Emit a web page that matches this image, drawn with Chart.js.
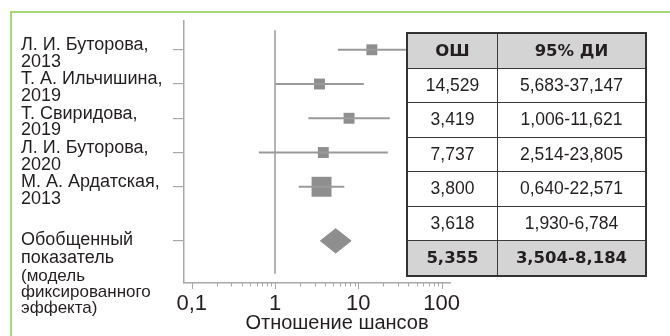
<!DOCTYPE html>
<html>
<head>
<meta charset="utf-8">
<script src="https://cdn.jsdelivr.net/npm/chart.js@4.4.1/dist/chart.umd.min.js"></script>
<style>
  html, body { margin: 0; padding: 0; background: #fff; }
  #wrap { position: relative; width: 670px; height: 336px; overflow: hidden; }
  #frame { position: absolute; left: 10px; top: 11px; width: 700px; height: 400px;
           border-top: 2px solid #a7d67c; border-left: 2px solid #a7d67c; pointer-events: none; }
  #tbl { position: absolute; left: 406px; top: 32px; border-collapse: collapse;
         font-family: "Liberation Sans", Arial, sans-serif; font-size: 17.5px; color: #231f20;
         border: 2px solid #333; }
  #tbl td { border: 1.5px solid #3a3a3a; text-align: center; padding: 0; height: 33.5px; }
  #tbl td.c1 { width: 89px; }
  #tbl td.c2 { width: 147px; }
  #tbl tr.head td, #tbl tr.total td { background: #d4d4d4; font-family: "DejaVu Sans", sans-serif;
           font-weight: bold; font-size: 16.5px; }
</style>
</head>
<body>
<div id="wrap">
  <canvas id="forest" width="670" height="336"></canvas>
  <table id="tbl"></table>
  <div id="frame"></div>
</div>
<script>
// Исследования (подписи по оси Y)
const studyLabels = [
    ["Л. И. Буторова,", "2013"],
    ["Т. А. Ильчишина,", "2019"],
    ["Т. Свиридова,", "2019"],
    ["Л. И. Буторова,", "2020"],
    ["М. А. Ардатская,", "2013"]
];
const pooledLabel = ["Обобщенный", "показатель"];
const pooledNote = ["(модель", "фиксированного", "эффекта)"];

// Отношение шансов и 95% ДИ
const oddsRatio = [14.529, 3.419, 7.737, 3.800, 3.618];
const ciLow = [5.683, 1.006, 2.514, 0.640, 1.930];
const ciHigh = [37.147, 11.621, 23.805, 22.571, 6.784];
const pooledOR = 5.355;
const pooledLow = 3.504;
const pooledHigh = 8.184;

// Ось X
const tickValues = [0.1, 1, 10, 100];
const tickLabels = ["0,1", "1", "10", "100"];
const tableHead = ["ОШ", "95% ДИ"];
const axisTitle = "Отношение шансов";

const pooledRow = 5.58;
const markColor = "#8e8e8e";
const lineColor = "#9a9a9a";
const textColor = "#231f20";
const fontFamily = "'Liberation Sans', Arial, sans-serif";

function fmt(v) {
    return v.toFixed(3).replace(".", ",");
}

// Таблица справа
function buildTable() {
    const tbl = document.getElementById("tbl");
    let html = `<tr class="head"><td class="c1">${tableHead[0]}</td><td class="c2">${tableHead[1]}</td></tr>`;
    oddsRatio.forEach((or, i) => {
        html += `<tr><td class="c1">${fmt(or)}</td><td class="c2">${fmt(ciLow[i])}-${fmt(ciHigh[i])}</td></tr>`;
    });
    html += `<tr class="total"><td class="c1">${fmt(pooledOR)}</td><td class="c2">${fmt(pooledLow)}-${fmt(pooledHigh)}</td></tr>`;
    tbl.innerHTML = html;
}

// Подписи, мелкие деления и название оси
const forestDecor = {
    id: "forestDecor",
    afterDraw(chart) {
        const ctx = chart.ctx;
        const x = chart.scales.x;
        const y = chart.scales.y;
        ctx.save();
        // деления оси X
        ctx.strokeStyle = "#a8a8a8";
        ctx.lineWidth = 1;
        x.ticks.forEach(t => {
            const px = Math.round(x.getPixelForValue(t.value)) + 0.5;
            const len = t.major ? 6 : 3.5;
            ctx.beginPath();
            ctx.moveTo(px, x.top);
            ctx.lineTo(px, x.top + len);
            ctx.stroke();
        });
        // подписи исследований
        ctx.fillStyle = textColor;
        ctx.textAlign = "left";
        ctx.textBaseline = "middle";
        ctx.font = "18px " + fontFamily;
        studyLabels.forEach((lines, i) => {
            const py = y.getPixelForValue(i);
            lines.forEach((s, k) => ctx.fillText(s, 21, py - 4.5 + k * 16.7));
        });
        const pp = y.getPixelForValue(pooledRow);
        pooledLabel.forEach((s, k) => ctx.fillText(s, 21, pp - 1 + k * 18.3));
        ctx.font = "17px " + fontFamily;
        pooledNote.forEach((s, k) => ctx.fillText(s, 21, pp + 35.5 + k * 16));
        // название оси
        ctx.textAlign = "center";
        ctx.font = "20px " + fontFamily;
        ctx.fillText(axisTitle, 337, 323);
        ctx.restore();
    }
};

function initForest() {
    const ctx = document.getElementById("forest").getContext("2d");
    const ciSets = oddsRatio.map((or, i) => ({
        data: [{ x: ciLow[i], y: i }, { x: ciHigh[i], y: i }],
        showLine: true,
        borderColor: lineColor,
        borderWidth: 2,
        pointRadius: 0
    }));
    const h = 0.356;
    new Chart(ctx, {
        type: "scatter",
        data: {
            datasets: [
                {
                    data: [{ x: 1, y: -0.57 }, { x: 1, y: 6.54 }],
                    showLine: true,
                    borderColor: lineColor,
                    borderWidth: 1.5,
                    pointRadius: 0
                },
                ...ciSets,
                {
                    data: oddsRatio.map((or, i) => ({ x: or, y: i })),
                    pointStyle: "rect",
                    pointRadius: [7.7, 7.7, 7.7, 7.7, 14.1],
                    backgroundColor: markColor,
                    borderWidth: 0
                },
                {
                    data: [
                        { x: pooledLow, y: pooledRow },
                        { x: pooledOR, y: pooledRow - h },
                        { x: pooledHigh, y: pooledRow },
                        { x: pooledOR, y: pooledRow + h },
                        { x: pooledLow, y: pooledRow }
                    ],
                    showLine: true,
                    fill: "shape",
                    backgroundColor: markColor,
                    borderColor: markColor,
                    borderWidth: 1,
                    pointRadius: 0
                }
            ]
        },
        options: {
            responsive: false,
            animation: false,
            layout: { padding: { left: 173, right: 220, top: 21, bottom: 16.6 } },
            plugins: { legend: { display: false }, tooltip: { enabled: false } },
            scales: {
                x: {
                    type: "logarithmic",
                    min: 0.0808,
                    max: 126,
                    afterBuildTicks: axis => {
                        const ticks = [];
                        for (let d = 0.1; d < 101; d *= 10) {
                            for (let m = 1; m <= 9; m++) {
                                const v = +(d * m).toPrecision(3);
                                if (v > 100) break;
                                ticks.push({ value: v, major: m === 1 });
                            }
                        }
                        axis.ticks = ticks;
                    },
                    grid: { display: false, drawTicks: true, tickLength: 6 },
                    border: { color: "#a8a8a8", width: 1.5 },
                    ticks: {
                        autoSkip: false,
                        maxRotation: 0,
                        padding: 2,
                        color: textColor,
                        font: { family: fontFamily, size: 22 },
                        callback: value => {
                            const i = tickValues.findIndex(t => Math.abs(t - value) < 1e-9);
                            return i >= 0 ? tickLabels[i] : "";
                        }
                    }
                },
                y: {
                    type: "linear",
                    reverse: true,
                    min: -0.84,
                    max: 6.81,
                    afterBuildTicks: axis => {
                        axis.ticks = studyLabels.map((s, i) => ({ value: i })).concat([{ value: pooledRow }]);
                    },
                    grid: { drawOnChartArea: false, tickLength: 11, color: "#a8a8a8", lineWidth: 1.2 },
                    border: { color: "#a8a8a8", width: 1.5 },
                    ticks: { display: false }
                }
            }
        },
        plugins: [forestDecor]
    });
}

window.onload = function() {
    buildTable();
    initForest();
};
</script>
</body>
</html>
